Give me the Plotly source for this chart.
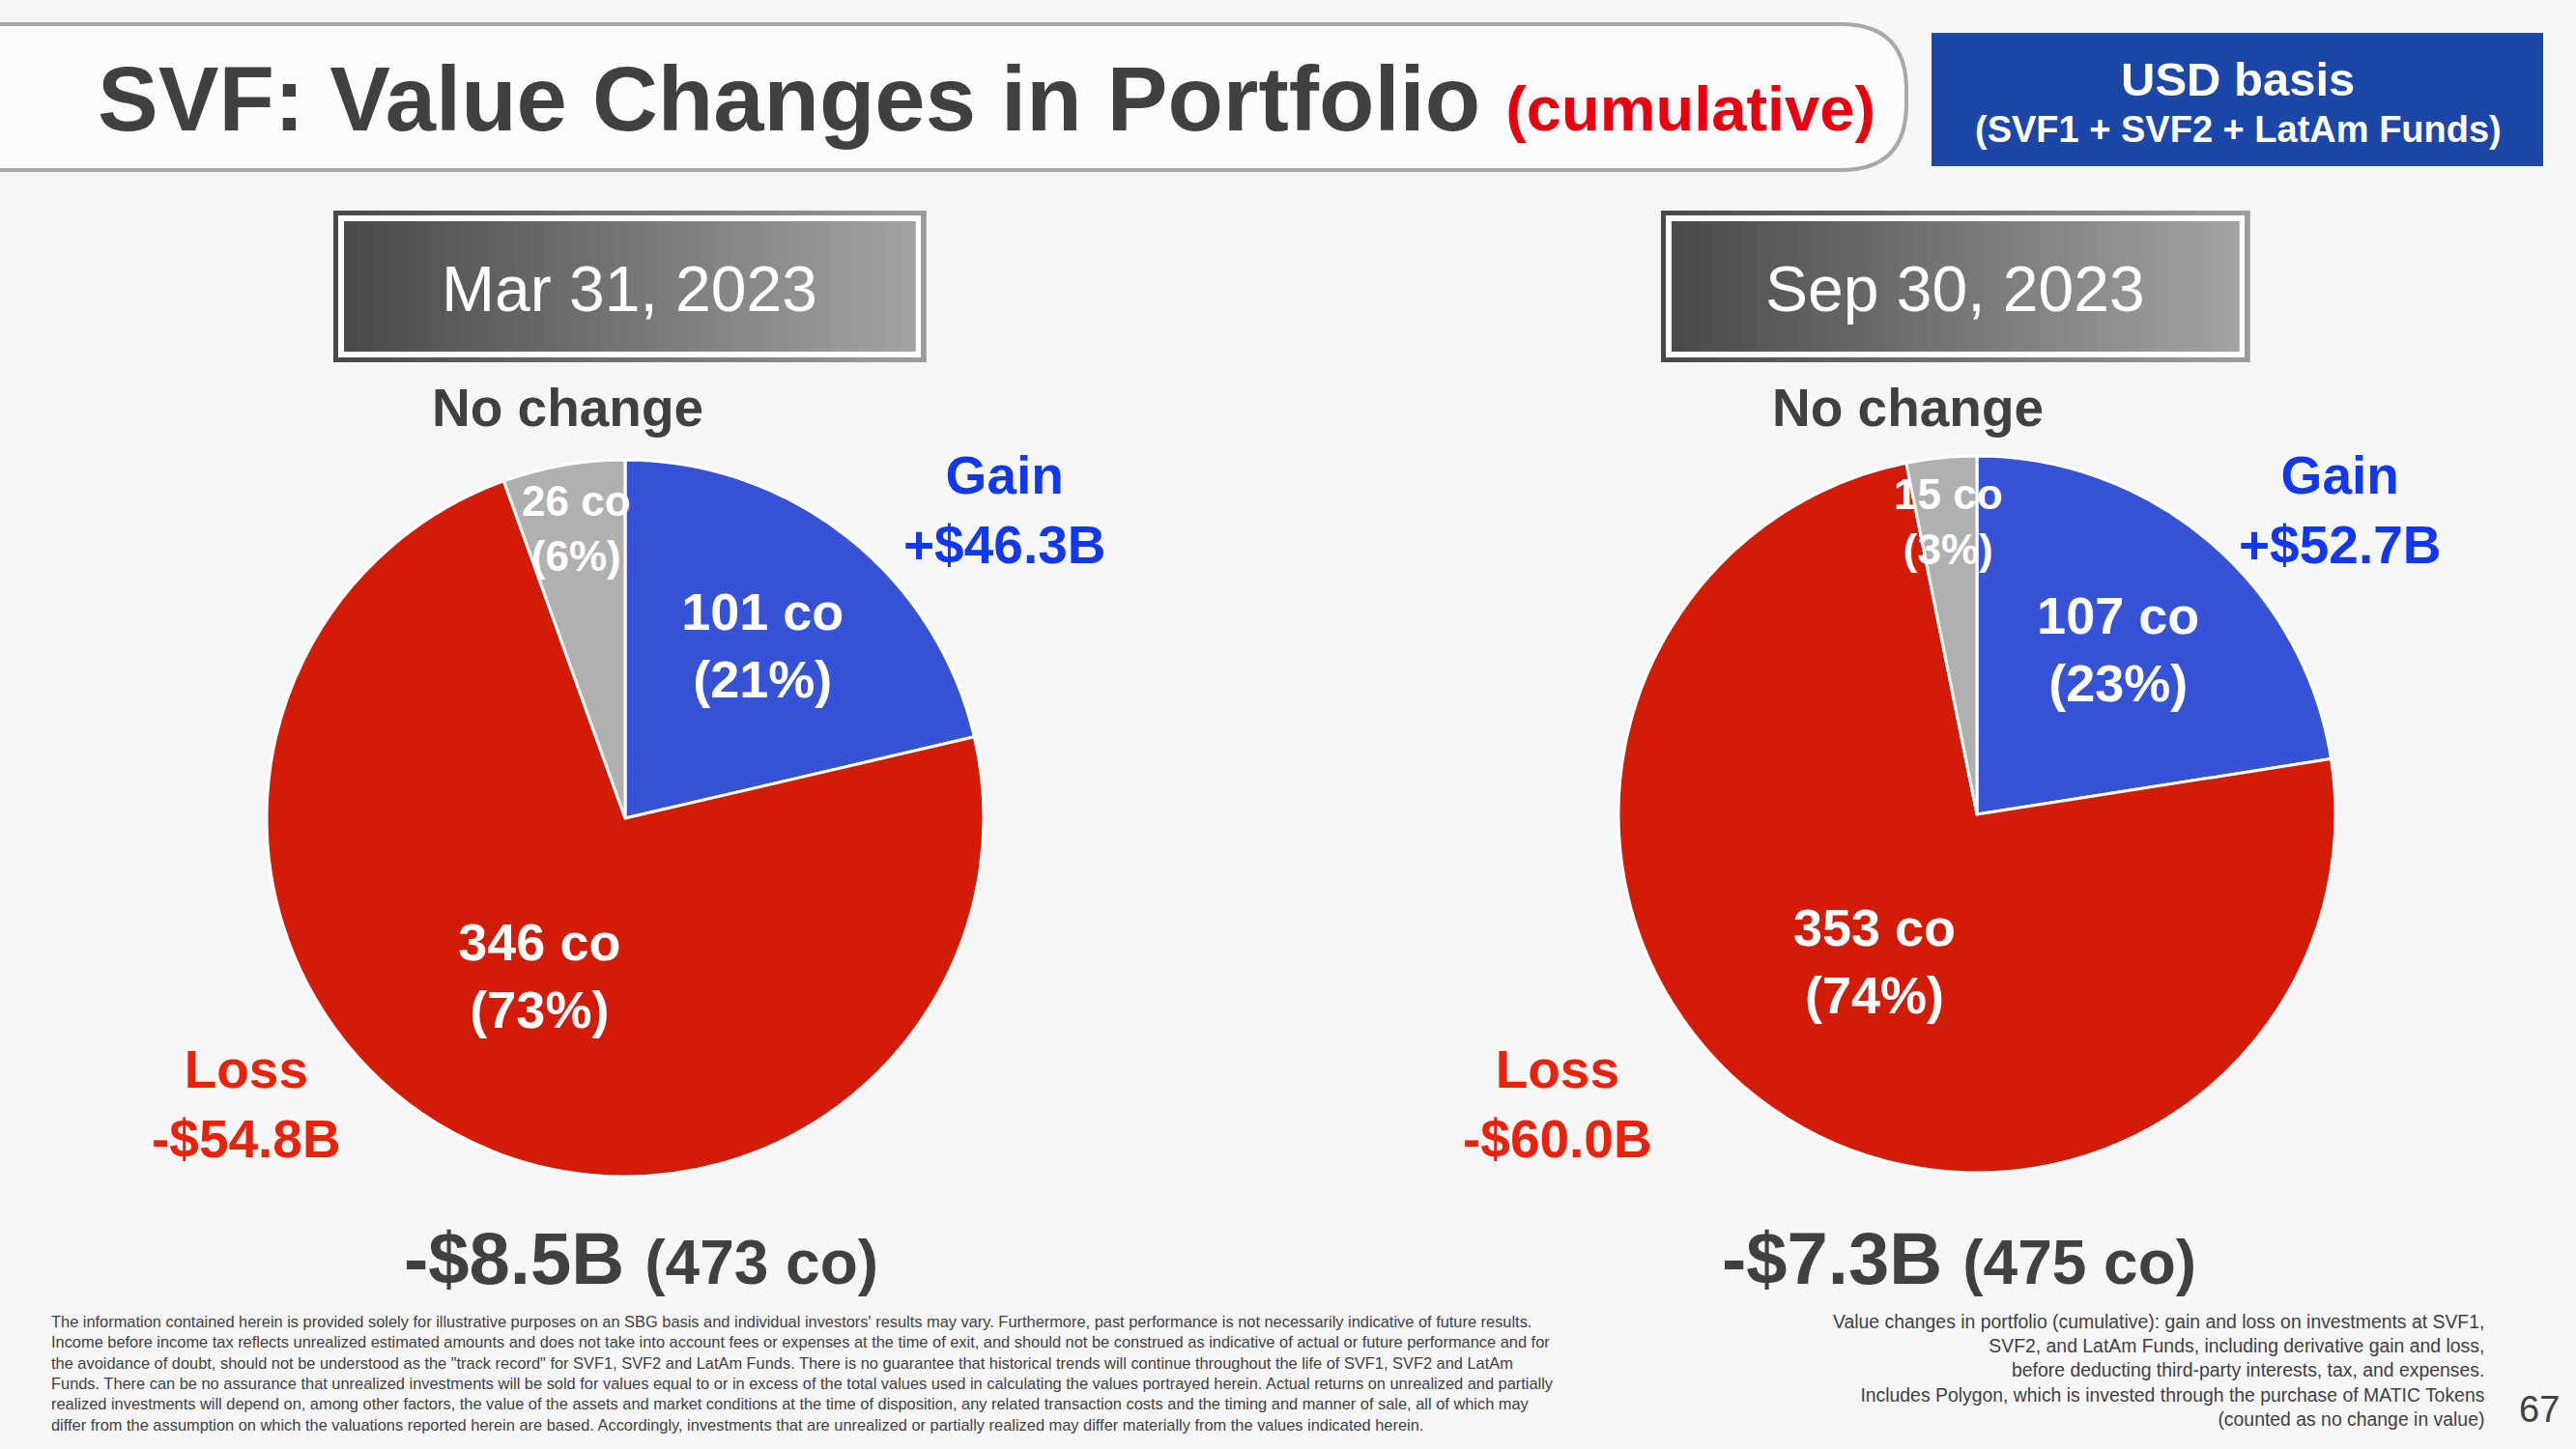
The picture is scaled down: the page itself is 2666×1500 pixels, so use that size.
import math
import plotly.graph_objects as go

W, H = 2666, 1500
FONT = "Liberation Sans, Arial, sans-serif"
DARK = "#404040"

# ---------------- data ----------------
categories = ["Gain", "Loss", "No change"]
dates = ["Mar 31, 2023", "Sep 30, 2023"]
counts_mar = [101, 346, 26]
counts_sep = [107, 353, 15]
pct_mar = [21, 73, 6]
pct_sep = [23, 74, 3]
gain_values = ["+$46.3B", "+$52.7B"]
loss_values = ["-$54.8B", "-$60.0B"]
net_values = ["-$8.5B", "-$7.3B"]
total_counts = [473, 475]

slice_colors = ["#3652d6", "#d21c07", "#b0b0b0"]

# ---------------- helpers ----------------
def px(x):
    return x / W


def py(y):
    return 1 - y / H


def hexmix(c0, c1, t):
    a = [int(c0[i:i + 2], 16) for i in (1, 3, 5)]
    b = [int(c1[i:i + 2], 16) for i in (1, 3, 5)]
    return "#" + "".join(f"{round(a[k] + (b[k] - a[k]) * t):02x}" for k in range(3))


shapes = []
annotations = []


def rect(x0, y0, x1, y1, fill, line=None, lw=0):
    shapes.append(dict(type="rect", xref="paper", yref="paper",
                       x0=px(x0), x1=px(x1), y0=py(y1), y1=py(y0),
                       fillcolor=fill, line=dict(width=lw, color=line or fill), layer="below"))


def grad_rect(x0, y0, x1, y1, c0, c1, n=40):
    step = (x1 - x0) / n
    for i in range(n):
        col = hexmix(c0, c1, i / (n - 1))
        shapes.append(dict(type="rect", xref="paper", yref="paper",
                           x0=px(x0 + i * step), x1=px(x0 + (i + 1) * step + 0.8),
                           y0=py(y1), y1=py(y0), fillcolor=col,
                           line=dict(width=0), layer="below"))


def ann(x, y, text, size, color=DARK, bold=True, xanchor="center", yanchor="middle", align="center"):
    annotations.append(dict(x=px(x), y=py(y), xref="paper", yref="paper", text=text,
                            showarrow=False, xanchor=xanchor, yanchor=yanchor, align=align,
                            font=dict(family=FONT, size=size, color=color,
                                      weight="bold" if bold else "normal")))


# ---------------- background decoration ----------------
# title capsule
x_left, x_right, y_top, y_bot, r = -20, 1973, 25, 176, 68
path = (f"M {px(x_left)},{py(y_top)} L {px(x_right - r)},{py(y_top)} "
        f"Q {px(x_right)},{py(y_top)} {px(x_right)},{py(y_top + r)} "
        f"L {px(x_right)},{py(y_bot - r)} "
        f"Q {px(x_right)},{py(y_bot)} {px(x_right - r)},{py(y_bot)} "
        f"L {px(x_left)},{py(y_bot)} Z")
shapes.append(dict(type="path", xref="paper", yref="paper", path=path,
                   fillcolor="#fcfcfc", line=dict(color="#a8a8a8", width=4), layer="below"))

# USD basis box
rect(1999, 34, 2632, 172, "#1a47a8")
ann(2316, 82, "USD basis", 49, color="white")
ann(2316, 134, "(SVF1 + SVF2 + LatAm Funds)", 38, color="white")

# date boxes
date_boxes = [(345, 958), (1719, 2328)]
for (bx0, bx1), label in zip(date_boxes, dates):
    by0, by1 = 218, 375
    grad_rect(bx0, by0, bx1, by1, "#4a4a4a", "#9c9c9c")
    rect(bx0 + 5, by0 + 5, bx1 - 5, by1 - 5, "#ffffff")
    grad_rect(bx0 + 11, by0 + 11, bx1 - 11, by1 - 11, "#4a4a4a", "#a2a2a2")
    ann((bx0 + bx1) / 2, (by0 + by1) / 2 + 2, label, 66, color="white", bold=False)

# title
ann(99, 102, "SVF: Value Changes in Portfolio "
    "<span style='font-size:65px;color:#e8000e'>(cumulative)</span>",
    94, xanchor="left")

# ---------------- pies ----------------
pie_centers = [(647, 847), (2046, 843)]
R = 371
fig = go.Figure()

for (cx, cy), counts, pcts in zip(pie_centers, [counts_mar, counts_sep], [pct_mar, pct_sep]):
    fig.add_trace(go.Pie(
        labels=categories, values=counts, customdata=pcts,
        sort=False, direction="clockwise", rotation=0,
        domain=dict(x=[px(cx - R), px(cx + R)], y=[py(cy + R), py(cy - R)]),
        marker=dict(colors=slice_colors, line=dict(color="white", width=3)),
        texttemplate=["%{value} co<br>(%{customdata}%)", "%{value} co<br>(%{customdata}%)", ""],
        textposition="inside", insidetextorientation="horizontal",
        textfont=dict(family=FONT, size=54, color="white", weight="bold"),
        hoverinfo="label+value", showlegend=False,
    ))
    # label of the thin "No change" slice, placed near the rim at its mid angle
    tot = sum(counts)
    frac = (counts[0] + counts[1] + counts[2] / 2) / tot
    ang = frac * 2 * math.pi
    lx = cx + 0.80 * R * math.sin(ang)
    ly = cy - 0.82 * R * math.cos(ang)
    ann(lx, ly, f"{counts[2]} co<br>({pcts[2]}%)", 44, color="white")

# category labels
nochange_x = [587, 1974]
gain_x = [1039, 2421]
loss_x = [255, 1612]
net_x = [663, 2027]
for i in range(2):
    ann(nochange_x[i], 422, "No change", 55)
    ann(gain_x[i], 528, f"Gain<br>{gain_values[i]}", 55, color="#1238ef")
    ann(loss_x[i], 1143, f"Loss<br>{loss_values[i]}", 55, color="#e8220c")
    ann(net_x[i], 1302, f"{net_values[i]} <span style='font-size:64px'>({total_counts[i]} co)</span>", 76)

# footnotes
left_note = ("The information contained herein is provided solely for illustrative purposes on an SBG basis and individual investors' results may vary. Furthermore, past performance is not necessarily indicative of future results.<br>"
             "Income before income tax reflects unrealized estimated amounts and does not take into account fees or expenses at the time of exit, and should not be construed as indicative of actual or future performance and for<br>"
             "the avoidance of doubt, should not be understood as the \"track record\" for SVF1, SVF2 and LatAm Funds. There is no guarantee that historical trends will continue throughout the life of SVF1, SVF2 and LatAm<br>"
             "Funds. There can be no assurance that unrealized investments will be sold for values equal to or in excess of the total values used in calculating the values portrayed herein. Actual returns on unrealized and partially<br>"
             "realized investments will depend on, among other factors, the value of the assets and market conditions at the time of disposition, any related transaction costs and the timing and manner of sale, all of which may<br>"
             "differ from the assumption on which the valuations reported herein are based. Accordingly, investments that are unrealized or partially realized may differ materially from the values indicated herein.")
ann(51, 1421, left_note, 16.4, bold=False, xanchor="left", align="left")

right_note = ("Value changes in portfolio (cumulative): gain and loss on investments at SVF1,<br>"
              "SVF2, and LatAm Funds, including derivative gain and loss,<br>"
              "before deducting third-party interests, tax, and expenses.<br>"
              "Includes Polygon, which is invested through the purchase of MATIC Tokens<br>"
              "(counted as no change in value)")
ann(2573, 1418, right_note, 19.4, bold=False, xanchor="right", align="right")

ann(2628, 1459, "67", 38, bold=False)

fig.update_layout(
    width=W, height=H, autosize=False,
    margin=dict(l=0, r=0, t=0, b=0),
    paper_bgcolor="#f6f6f6", plot_bgcolor="#f6f6f6",
    shapes=shapes, annotations=annotations,
    font=dict(family=FONT, color=DARK),
)

fig.write_html("out.html", config={"displayModeBar": False})
